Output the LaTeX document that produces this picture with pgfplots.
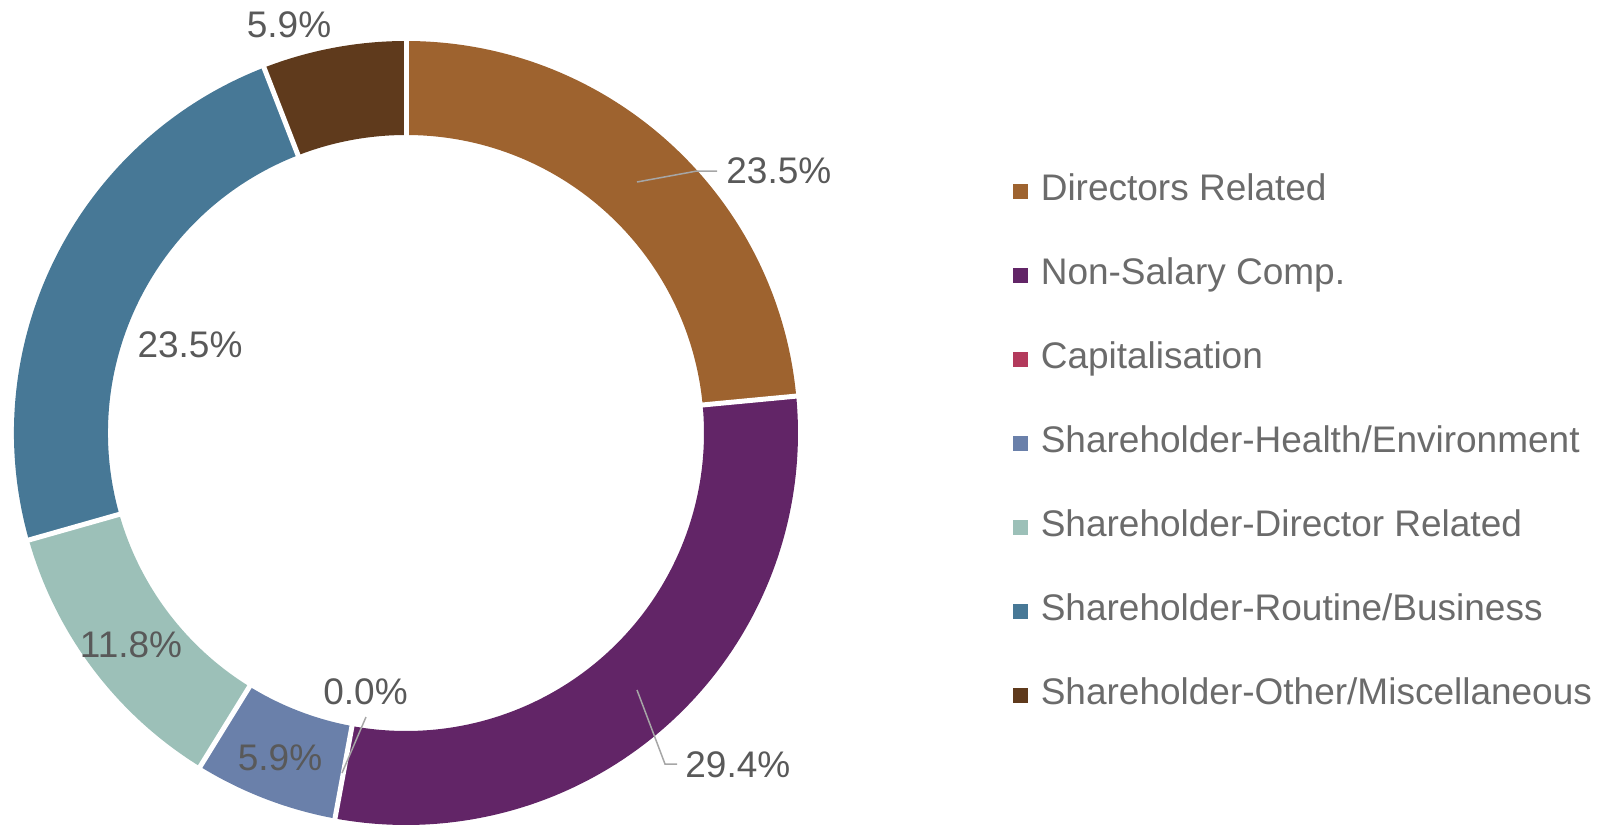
\documentclass[border=0pt]{standalone}
\usepackage{pgfplots}
\pgfplotsset{compat=1.18}
\usepackage{pgfplotstable}
\usepackage{fontspec}
\setmainfont{Liberation Sans}
\definecolor{col0}{HTML}{9E632F}
\definecolor{col1}{HTML}{622567}
\definecolor{col2}{HTML}{B33A5C}
\definecolor{col3}{HTML}{6A80AA}
\definecolor{col4}{HTML}{9CC0B8}
\definecolor{col5}{HTML}{477896}
\definecolor{col6}{HTML}{5F3A1C}
\definecolor{labgray}{HTML}{595959}
\definecolor{leggray}{HTML}{6B6B6B}
\definecolor{leadgray}{HTML}{A6A6A6}
\newcommand\lblfont{\fontsize{18.5}{22}\selectfont}
\pgfplotstableread{
value
23.5
29.4
0.0
5.9
11.8
23.5
5.9
}\datatable
% centre (406,394), outer radius 392, inner radius 298 (axis units = 0.5pt)
\newcommand\slice[3]{%
  \fill[#3] (axis cs:{406+392*cos(#1)},{394+392*sin(#1)})
     arc[start angle=#1, end angle=#2, radius=196pt]
     -- (axis cs:{406+298*cos(#2)},{394+298*sin(#2)})
     arc[start angle=#2, end angle=#1, radius=149pt] -- cycle;}
\newcommand\sep[1]{%
  \draw[white, line width=2.5pt] (axis cs:{406+290*cos(#1)},{394+290*sin(#1)})
     -- (axis cs:{406+396*cos(#1)},{394+396*sin(#1)});}
\begin{document}
\begin{tikzpicture}
\def\cum{90}
\foreach \i in {0,...,6}{%
  \pgfplotstablegetelem{\i}{value}\of\datatable
  \pgfmathsetmacro\tmp{\cum-3.6*\pgfplotsretval}%
  \expandafter\xdef\csname s\i\endcsname{\cum}%
  \expandafter\xdef\csname e\i\endcsname{\tmp}%
  \xdef\cum{\tmp}%
}
\begin{axis}[
  scale only axis, width=801.5pt, height=413.5pt,
  xmin=0, xmax=1603, ymin=0, ymax=827,
  hide axis, clip=false,
  legend cell align=left,
  legend image code/.code={\fill[#1] (0pt,-3.5pt) rectangle (7pt,3.5pt);},
  legend style={at={(axis cs:1013,653)}, anchor=north west, draw=none, fill=none,
    inner sep=0pt, outer sep=0pt, row sep=25pt, column sep=6.5pt,
    nodes={text height=13pt, text depth=4pt, inner sep=0pt, text=leggray, font=\lblfont}},
]
\coordinate (bl) at (rel axis cs:0,0);
\coordinate (tr) at (rel axis cs:1,1);
\pgfplotsinvokeforeach{0,...,6}{%
  \slice{\csname s#1\endcsname}{\csname e#1\endcsname}{col#1}
}
\pgfplotsinvokeforeach{0,1,3,4,5,6}{%
  \sep{\csname s#1\endcsname}
}
% leader lines
\draw[leadgray, line width=0.75pt] (axis cs:637,645) -- (axis cs:697,656) -- (axis cs:717,656);
\draw[leadgray, line width=0.75pt] (axis cs:637,137) -- (axis cs:665,63) -- (axis cs:677,63);
\draw[leadgray, line width=0.75pt] (axis cs:342,54) -- (axis cs:366,110);
% data labels
\node[anchor=base west, inner sep=0pt, text=labgray, font=\lblfont] at (axis cs:726,644) {23.5\%};
\node[anchor=base west, inner sep=0pt, text=labgray, font=\lblfont] at (axis cs:685,50) {29.4\%};
\node[anchor=base, inner sep=0pt, text=labgray, font=\lblfont] at (axis cs:365.5,123) {0.0\%};
\node[anchor=base, inner sep=0pt, text=labgray, font=\lblfont] at (axis cs:280,57) {5.9\%};
\node[anchor=base, inner sep=0pt, text=labgray, font=\lblfont] at (axis cs:131,170) {11.8\%};
\node[anchor=base, inner sep=0pt, text=labgray, font=\lblfont] at (axis cs:190,470) {23.5\%};
\node[anchor=base, inner sep=0pt, text=labgray, font=\lblfont] at (axis cs:289,790) {5.9\%};
\addlegendimage{col0}\addlegendentry{Directors Related}
\addlegendimage{col1}\addlegendentry{Non-Salary Comp.}
\addlegendimage{col2}\addlegendentry{Capitalisation}
\addlegendimage{col3}\addlegendentry{Shareholder-Health/Environment}
\addlegendimage{col4}\addlegendentry{Shareholder-Director Related}
\addlegendimage{col5}\addlegendentry{Shareholder-Routine/Business}
\addlegendimage{col6}\addlegendentry{Shareholder-Other/Miscellaneous}
\end{axis}
\pgfresetboundingbox
\path[use as bounding box] (bl) rectangle (tr);
\end{tikzpicture}
\end{document}
